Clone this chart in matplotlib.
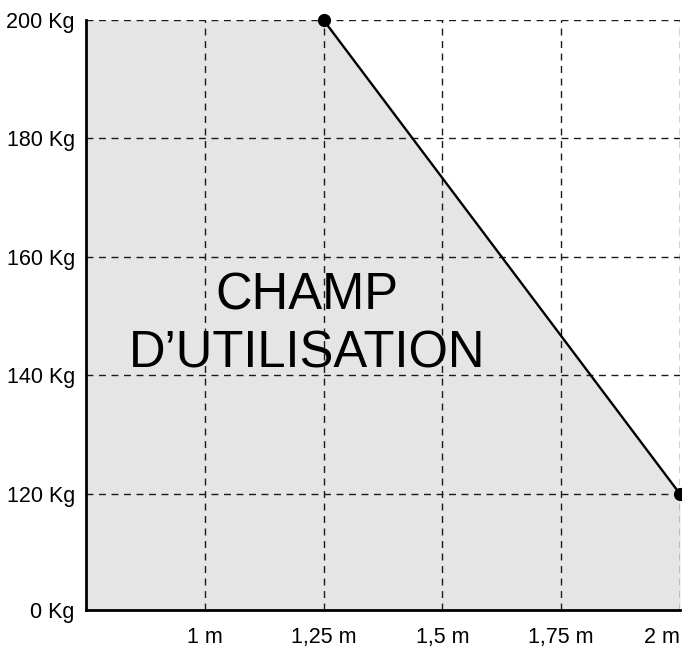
"""Champ d'utilisation : charge admissible selon la portée."""

import matplotlib

matplotlib.use("Agg")
import matplotlib.pyplot as plt
import numpy as np

# --- données ---
portee_m = [1.25, 2.0]
charge_kg = [200, 120]
portee_min = 0.75

ticks_x = [1.0, 1.25, 1.5, 1.75, 2.0]
labels_x = ["1 m", "1,25 m", "1,5 m", "1,75 m", "2 m"]
ticks_y = [0, 120, 140, 160, 180, 200]
labels_y = ["0 Kg", "120 Kg", "140 Kg", "160 Kg", "180 Kg", "200 Kg"]

COULEUR_CHAMP = "#e5e5e5"
ECART_BAS = 19.6  # hauteur (en Kg d'échelle) donnée au tronçon 0-120


def compresse(y):
    y = np.asarray(y, dtype=float)
    return np.where(y >= 120, y, 120 - (120 - y) * ECART_BAS / 120)


def decompresse(y):
    y = np.asarray(y, dtype=float)
    return np.where(y >= 120, y, 120 - (120 - y) * 120 / ECART_BAS)


plt.rcParams["font.family"] = ["Liberation Sans", "DejaVu Sans"]

fig = plt.figure(figsize=(6.82, 6.48), dpi=100)
ax = fig.add_axes([0.126, 0.0586, 0.871, 0.9105])
ax.set_yscale("function", functions=(compresse, decompresse))

x_champ = [portee_min] + portee_m
y_champ = [charge_kg[0]] + charge_kg
ax.fill_between(x_champ, y_champ, 0, color=COULEUR_CHAMP, lw=0, zorder=1)

# grille pointillée
for x in ticks_x:
    ax.axvline(x, color="#1a1a1a", lw=1, ls=(0, (5, 4)), zorder=2)
for y in ticks_y[1:]:
    ax.axhline(y, color="#1a1a1a", lw=1, ls=(0, (5, 4)), zorder=2)

ax.plot(portee_m, charge_kg, color="black", lw=1.7, marker="o", ms=8.5,
        zorder=4, clip_on=False)

ax.text(1.215, 148.5, "CHAMP\nD\u2019UTILISATION", fontsize=36.5, ha="center",
        va="center", multialignment="center", linespacing=1.24, zorder=5)

ax.set_xlim(portee_min, 2.0)
ax.set_ylim(0, 200)
ax.set_xticks(ticks_x, labels_x, fontsize=15.5)
ax.set_yticks(ticks_y, labels_y, fontsize=15.5)
ax.tick_params(axis="both", length=0)
ax.tick_params(axis="x", pad=12)
ax.tick_params(axis="y", pad=8)
ax.get_xticklabels()[-1].set_horizontalalignment("right")

for cote in ["top", "right"]:
    ax.spines[cote].set_visible(False)
for cote in ["left", "bottom"]:
    ax.spines[cote].set_linewidth(2)
    ax.spines[cote].set_zorder(6)

fig.savefig("out.png", dpi=100)
